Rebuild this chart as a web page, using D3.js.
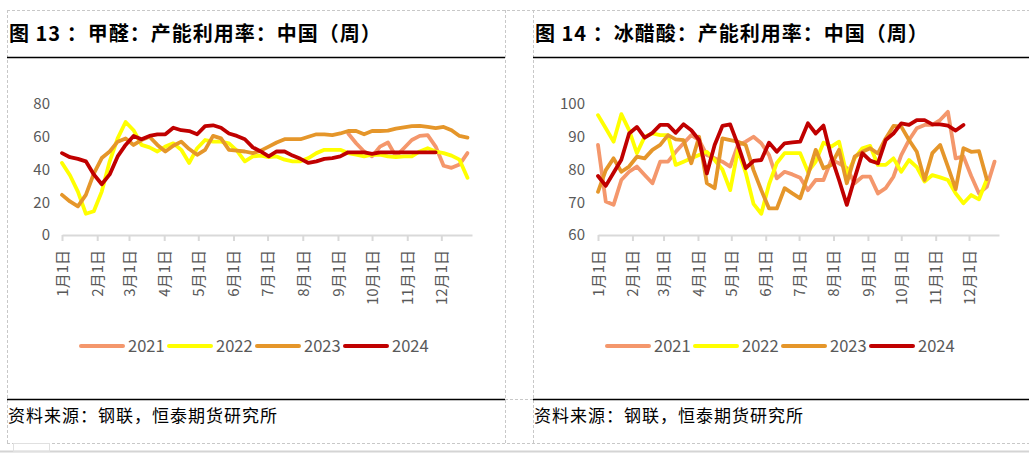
<!DOCTYPE html>
<html>
<head>
<meta charset="utf-8">
<script src="https://cdn.jsdelivr.net/npm/d3@7"></script>
<style>
  body { margin: 0; background: #fff; }
  svg { display: block; }
  text { font-family: "Noto Sans CJK SC", "Noto Sans", sans-serif; }
</style>
</head>
<body>
<svg id="chart" width="1029" height="454"></svg>
<script>
// ---- data (weekly readings, week 0 = Jan 1) ----
const years = ["2021", "2022", "2023", "2024"];
const colors = ["#F4976C", "#FFFF00", "#E5962A", "#C00000"];
const monthLabels = ["1月1日", "2月1日", "3月1日", "4月1日", "5月1日", "6月1日",
                     "7月1日", "8月1日", "9月1日", "10月1日", "11月1日", "12月1日"];

// 甲醛 (formaldehyde) capacity utilisation, %
const hcho2021Start = 36;
const hcho2021 = [62, 56, 51, 48, 54, 56.5, 48, 53, 58, 60.5, 61, 54, 42.3, 41, 43, 50];
const hcho2022 = [44, 36.5, 26.5, 13, 14.5, 26.5, 45, 59, 69, 64, 55, 53.5, 51, 54, 56, 52,
                  44, 53, 58, 57, 57, 56, 51.5, 45, 48, 48.5, 47.5, 48, 46, 45, 45, 47, 50,
                  52, 52, 52, 50, 49, 48, 49, 49, 48, 47.5, 48, 48, 51, 53, 51, 50, 48.5, 46, 35];
const hcho2023 = [24.5, 20.5, 17.5, 24.5, 37.5, 47, 51, 57, 59, 55, 58, 60, 55, 51, 54.5, 57,
                  52.5, 49, 52, 60.5, 59, 52, 51.5, 51, 50, 51.5, 54, 56.5, 58.5, 58.5, 58.5,
                  60, 61.5, 61.5, 61, 62, 63.5, 63.5, 61.5, 63.5, 63.5, 63.7, 65, 65.8, 66.5,
                  66.7, 66, 65.3, 66, 64, 60.5, 59.5];
const hcho2024 = [50, 47.5, 46.5, 45, 37, 31, 37, 48, 55, 60.5, 58.5, 60.5, 61.5, 61.5, 65.5,
                  64, 63.5, 61.5, 66.5, 67, 65.5, 62, 60.5, 58.5, 53.5, 51, 48, 51, 51, 48.5,
                  46.5, 44, 45, 46.5, 47, 48, 50.5, 50.5, 50.5, 49.5, 50.5, 50.5, 50.5, 50.5,
                  50.5, 50.5, 50.5, 50.5];

// 冰醋酸 (glacial acetic acid) capacity utilisation, %
const acid2021 = [87.5, 70.2, 69.2, 76.8, 79.3, 80.9, 78.3, 75.8, 82.4, 82.4, 85.4, 88, 90.5,
                  89, 84.4, 83.4, 82.4, 80.9, 87.5, 88.5, 90, 88, 84.4, 77.3, 79.3, 78.5, 77.5,
                  73.7, 76.8, 76.8, 82.9, 81.9, 80.4, 75.8, 77.8, 77.8, 72.7, 74.3, 77.8, 84.4,
                  89, 92.6, 93.6, 93.6, 95.1, 97.6, 83.4, 84, 78, 72.7, 74.7, 82.4];
const acid2022 = [96.6, 92.6, 88.5, 96.9, 92, 85, 90, 91, 90.5, 90.5, 81.4, 82.4, 83.4, 84.4,
                  85.4, 82.9, 80, 73.7, 86, 79, 69.5, 66.5, 75.5, 82, 85, 85, 85, 79.3, 82.4,
                  88.2, 87, 88.5, 78.3, 83.4, 86.5, 87.2, 81.4, 81.4, 83.4, 79.3, 82.9, 80.7,
                  76.3, 78.3, 77.6, 76.8, 72.7, 69.7, 72.2, 70.9, 77];
const acid2023 = [73.2, 79.8, 83.4, 79.3, 80.9, 83.9, 83.4, 86, 87.5, 90.5, 89.2, 89, 81.9, 90,
                  75.8, 74.3, 89.5, 89, 88.5, 87.5, 79.8, 73.7, 68.1, 68.1, 74.3, 72.7, 71.2,
                  78.3, 86, 80.4, 81.4, 86, 75.8, 83.9, 85.4, 86.5, 84.9, 89.5, 93.3, 93.1, 89,
                  85.4, 76.8, 85, 87.5, 80.9, 74, 86.5, 85.4, 85.6, 77];
const acid2024 = [78, 75, 79, 83, 91, 93, 89.7, 91.2, 93.6, 93.6, 91.2, 93.8, 92, 89, 78.8, 87.5,
                  93.3, 93.8, 87.5, 80.4, 82.6, 82.9, 88.2, 85.4, 88, 88.3, 88.5, 94.1, 91, 93.4,
                  83.9, 76.8, 69.2, 77.3, 85, 82.7, 81.9, 89, 91, 94.1, 93.6, 95.1, 95.1, 93.8,
                  93.8, 93.4, 91.9, 93.6];

const leftTicks = [0, 20, 40, 60, 80];
const rightTicks = [60, 70, 80, 90, 100];

// ---- drawing ----
const svg = d3.select("#chart");
const yearStart = new Date(2023, 0, 1);
const weekDate = i => d3.timeDay.offset(yearStart, 7 * i);
const monthStarts = d3.timeMonth.range(yearStart, new Date(2023, 11, 2));

// page frame (dashed cell borders, rules)
const frame = svg.append("g");
const dash = (x1, y1, x2, y2) => frame.append("line")
  .attr("x1", x1).attr("y1", y1).attr("x2", x2).attr("y2", y2)
  .attr("stroke", "#c8c8c8").attr("stroke-width", 1).attr("stroke-dasharray", "3,2");
dash(7, 10.5, 1029, 10.5);
dash(7.5, 10, 7.5, 443);
dash(505.5, 10, 505.5, 443);
dash(533.5, 10, 533.5, 443);
dash(505, 399.5, 533, 399.5);
dash(7, 443.5, 1029, 443.5);
frame.append("line").attr("x1", 0).attr("x2", 1029).attr("y1", 451.5).attr("y2", 451.5)
  .attr("stroke", "#d4d4d4").attr("stroke-width", 2);
frame.append("rect").attr("x", 13.5).attr("y", 443.5).attr("width", 36).attr("height", 8)
  .attr("fill", "none").attr("stroke", "#e0e0e0");

function panel(o) {
  const g = svg.append("g");
  g.append("text").attr("x", o.left + 2).attr("y", 41)
    .attr("font-size", 20).attr("font-weight", 700).attr("fill", "#000")
    .attr("letter-spacing", 1)
    .text(o.title);
  [57.5, 399.5].forEach(y => g.append("line")
    .attr("x1", o.left).attr("x2", o.right).attr("y1", y).attr("y2", y)
    .attr("stroke", "#000").attr("stroke-width", 1.5));
  g.append("text").attr("x", o.left + 1).attr("y", 422)
    .attr("font-size", 17).attr("fill", "#000").attr("letter-spacing", 1)
    .text("资料来源：钢联，恒泰期货研究所");

  const x = d3.scaleTime().domain([yearStart, new Date(2023, 11, 28)]).range([o.x0, o.x1]);
  const y = d3.scaleLinear().domain(d3.extent(o.yTicks)).range([235, 104]);

  const yAxis = g.append("g").attr("transform", `translate(${o.x0},0)`)
    .call(d3.axisLeft(y).tickValues(o.yTicks).tickSize(0).tickPadding(o.x0 - o.labelRight));
  yAxis.select(".domain").remove();
  yAxis.selectAll("text").attr("font-size", 15).attr("fill", "#595959")
    .attr("font-family", "'Noto Sans', sans-serif");

  const xAxis = g.append("g").attr("transform", "translate(0,235)")
    .call(d3.axisBottom(x).tickValues(monthStarts).tickSizeOuter(0).tickSizeInner(6)
      .tickFormat((d, i) => monthLabels[i]));
  xAxis.select(".domain").attr("stroke", "#d9d9d9").attr("stroke-width", 2);
  xAxis.selectAll(".tick line").attr("stroke", "#d9d9d9").attr("stroke-width", 2);
  xAxis.selectAll(".tick text")
    .attr("font-size", 15).attr("fill", "#595959")
    .attr("text-anchor", "end").attr("dy", "0.35em")
    .attr("x", 0).attr("y", 0)
    .attr("transform", "translate(0,15) rotate(-90)");

  const line = d3.line()
    .x(d => x(weekDate(d.i)))
    .y(d => y(d.v));
  o.series.forEach((s, k) => {
    const pts = s.values.map((v, j) => ({ i: (s.start || 0) + j, v }));
    g.append("path").datum(pts)
      .attr("d", line)
      .attr("fill", "none")
      .attr("stroke", colors[k])
      .attr("stroke-width", 3.8)
      .attr("stroke-linejoin", "round")
      .attr("stroke-linecap", "round");
  });

  const leg = g.append("g");
  years.forEach((yr, k) => {
    const lx = o.legendX + k * 88;
    leg.append("line").attr("x1", lx).attr("x2", lx + 42).attr("y1", 346).attr("y2", 346)
      .attr("stroke", colors[k]).attr("stroke-width", 4).attr("stroke-linecap", "round");
    leg.append("text").attr("x", lx + 47).attr("y", 346).attr("dy", "0.35em")
      .attr("font-size", 16.5).attr("fill", "#595959")
      .attr("font-family", "'Noto Sans', sans-serif")
      .text(yr);
  });
}

panel({
  title: "图 13 ：甲醛：产能利用率：中国（周）",
  left: 7, right: 505, x0: 62, x1: 472, labelRight: 50,
  yTicks: leftTicks, legendX: 81,
  series: [
    { values: hcho2021, start: hcho2021Start },
    { values: hcho2022 },
    { values: hcho2023 },
    { values: hcho2024 }
  ]
});

panel({
  title: "图 14 ：冰醋酸：产能利用率：中国（周）",
  left: 533, right: 1029, x0: 598, x1: 999, labelRight: 585,
  yTicks: rightTicks, legendX: 607,
  series: [
    { values: acid2021 },
    { values: acid2022 },
    { values: acid2023 },
    { values: acid2024 }
  ]
});
</script>
</body>
</html>
